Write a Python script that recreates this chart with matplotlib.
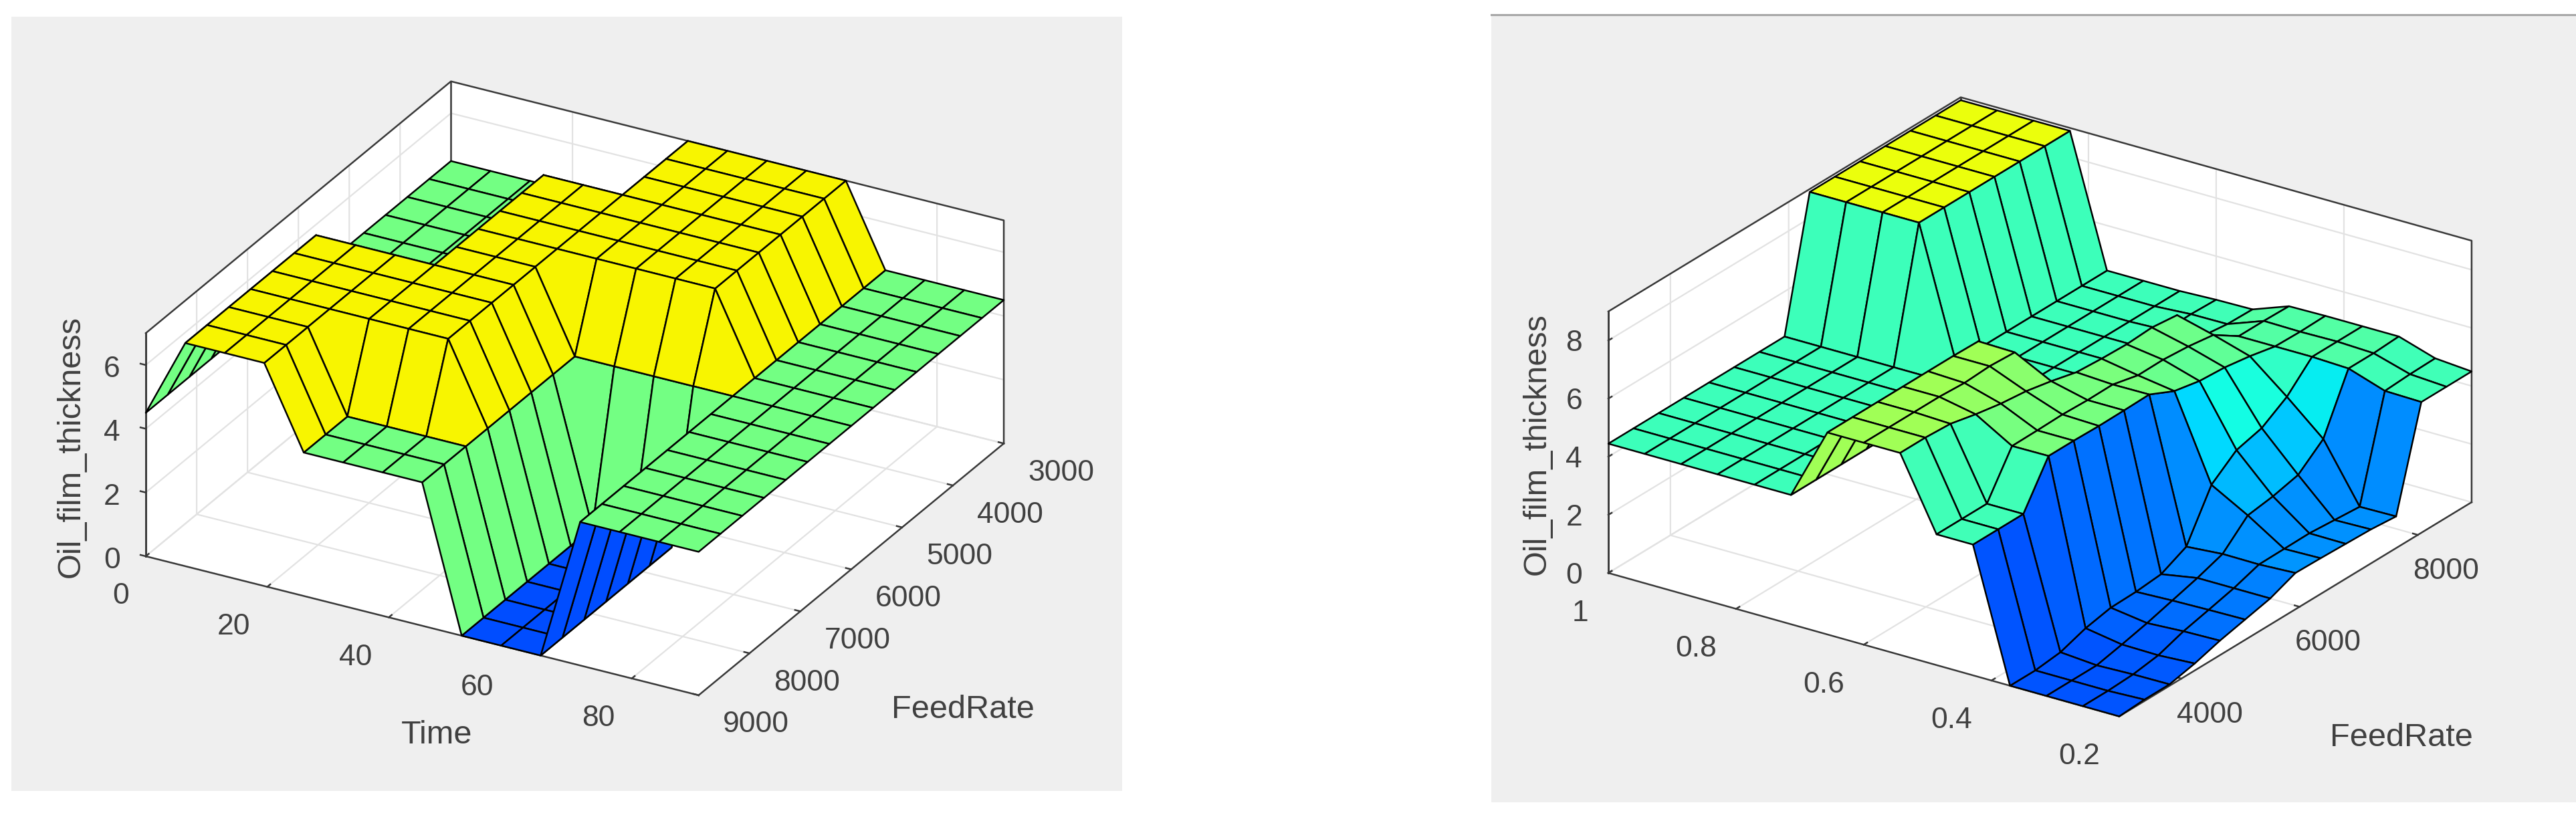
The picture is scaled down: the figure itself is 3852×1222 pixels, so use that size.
import numpy as np
import matplotlib
matplotlib.use("Agg")
import matplotlib.pyplot as plt
from matplotlib.colors import Normalize
from matplotlib.patches import Rectangle
from mpl_toolkits.mplot3d import proj3d

W, H = 3852, 1222
plt.rcParams['font.family'] = ['Liberation Sans', 'DejaVu Sans']

TEXT = '#404040'
BOX = '#383838'

# ---- left surface: Time / FeedRate ----
time_vals = [0, 6.5, 13, 19.5, 26, 32.5, 39, 45.5, 52, 58.5, 65, 71.5, 78, 84.5, 91]
feed_left = [3000, 3429, 3857, 4286, 4714, 5143, 5571, 6000, 6429, 6857, 7286, 7714, 8143, 8571, 9000]
thick_left = [
    [4.5, 4.5, 4.5, 4.5, 4.5, 4.5, 7, 7, 7, 7, 7, 4.5, 4.5, 4.5, 4.5],
    [4.5, 4.5, 4.5, 4.5, 4.5, 4.5, 7, 7, 7, 7, 7, 4.5, 4.5, 4.5, 4.5],
    [4.5, 4.5, 4.5, 4.5, 4.5, 4.5, 7, 7, 7, 7, 7, 4.5, 4.5, 4.5, 4.5],
    [4.5, 4.5, 4.5, 4.5, 7, 7, 7, 7, 7, 7, 7, 4.5, 4.5, 4.5, 4.5],
    [4.5, 4.5, 4.5, 4.5, 7, 7, 7, 7, 7, 7, 7, 4.5, 4.5, 4.5, 4.5],
    [4.5, 4.5, 4.5, 4.5, 7, 7, 7, 7, 7, 7, 7, 4.5, 4.5, 4.5, 4.5],
    [4.5, 4.5, 4.5, 4.5, 7, 7, 7, 7, 7, 7, 7, 4.5, 4.5, 4.5, 4.5],
    [4.5, 4.5, 4.5, 4.5, 7, 7, 7, 4.5, 4.5, 4.5, 4.5, 4.5, 4.5, 4.5, 4.5],
    [4.5, 7, 7, 7, 7, 7, 7, 4.5, 0, 0, 0, 4.5, 4.5, 4.5, 4.5],
    [4.5, 7, 7, 7, 7, 7, 7, 4.5, 0, 0, 0, 4.5, 4.5, 4.5, 4.5],
    [4.5, 7, 7, 7, 7, 7, 7, 4.5, 0, 0, 0, 4.5, 4.5, 4.5, 4.5],
    [4.5, 7, 7, 7, 7, 7, 7, 4.5, 0, 0, 0, 4.5, 4.5, 4.5, 4.5],
    [4.5, 7, 7, 7, 4.5, 4.5, 4.5, 4.5, 0, 0, 0, 4.5, 4.5, 4.5, 4.5],
    [4.5, 7, 7, 7, 4.5, 4.5, 4.5, 4.5, 0, 0, 0, 4.5, 4.5, 4.5, 4.5],
    [4.5, 7, 7, 7, 4.5, 4.5, 4.5, 4.5, 0, 0, 0, 4.5, 4.5, 4.5, 4.5],
]

# ---- right surface: second input / FeedRate ----
input_vals = [0.2, 0.257, 0.314, 0.371, 0.429, 0.486, 0.543, 0.6, 0.657, 0.714, 0.771, 0.829, 0.886, 0.943, 1.0]
feed_right = [2950, 3376, 3801, 4227, 4653, 5079, 5504, 5930, 6356, 6781, 7207, 7633, 8059, 8484, 8910]
thick_right = [
    [0, 0, 0, 0, 4.5, 4.5, 6.95, 6.95, 6.95, 4.45, 4.45, 4.45, 4.45, 4.45, 4.45],
    [0.05, 0, 0, 0, 4.5, 4.5, 6.95, 6.95, 6.95, 4.45, 4.45, 4.45, 4.45, 4.45, 4.45],
    [0.05, 0.04, 0, 0.1, 4.5, 4.5, 6.9, 6.95, 6.95, 4.45, 4.45, 4.45, 4.45, 4.45, 4.45],
    [0.24, 0.17, 0.19, 0.4, 5.97, 5.96, 6.7, 6.95, 6.95, 4.45, 4.45, 4.45, 4.45, 4.45, 4.45],
    [0.5, 0.47, 0.4, 0.58, 5.97, 5.97, 6.54, 6.9, 6.95, 4.45, 4.45, 4.45, 4.45, 4.45, 4.45],
    [0.7, 0.68, 0.65, 0.6, 5.95, 5.99, 6.44, 6.95, 6.95, 4.45, 4.45, 4.45, 4.45, 4.45, 4.45],
    [0.9, 0.9, 0.9, 0.68, 5.96, 5.96, 6.26, 6.9, 6.93, 4.45, 4.45, 4.45, 4.45, 4.45, 4.45],
    [1.25, 1.19, 1.2, 1.1, 5.98, 5.97, 6.04, 4.45, 4.45, 4.45, 4.45, 4.45, 4.45, 4.45, 4.45],
    [1.23, 1.2, 2.0, 2.7, 5.57, 5.76, 5.98, 4.45, 4.45, 4.45, 4.45, 8.9, 8.9, 8.9, 8.9],
    [1.2, 1.21, 2.13, 3.37, 5.39, 5.77, 5.95, 4.45, 4.45, 4.45, 4.45, 8.9, 8.9, 8.9, 8.9],
    [1.17, 1.14, 2.34, 3.6, 5.33, 5.7, 6.0, 4.45, 4.45, 4.45, 4.45, 8.9, 8.9, 8.9, 8.9],
    [1.09, 1.07, 3.05, 4.15, 5.19, 5.57, 5.9, 4.45, 4.45, 4.45, 4.45, 8.9, 8.9, 8.9, 8.9],
    [4.5, 4.53, 4.95, 5.0, 5.0, 5.0, 4.65, 4.5, 4.45, 4.45, 4.45, 8.9, 8.9, 8.9, 8.9],
    [4.5, 4.58, 4.95, 5.0, 4.98, 5.0, 4.54, 4.53, 4.45, 4.45, 4.45, 8.9, 8.9, 8.9, 8.9],
    [4.5, 4.6, 5.0, 5.0, 5.0, 4.98, 4.52, 4.5, 4.45, 4.45, 4.45, 8.9, 8.9, 8.9, 8.9],
]

fig = plt.figure(figsize=(W / 100, H / 100), dpi=100, facecolor='white')


def panel_rect(x0, y0, x1, y1):
    fig.add_artist(Rectangle((x0 / W, 1 - y1 / H), (x1 - x0) / W, (y1 - y0) / H, zorder=-1,
                             transform=fig.transFigure, facecolor='#efefef', edgecolor='none'))


def px_label(x, y, s, rot=0):
    fig.text(x / W, 1 - y / H, s, fontsize=35, color=TEXT, rotation=rot, ha='center', va='center')


def to_px(ax, x, y, z):
    ax.apply_aspect()
    xp, yp, _ = proj3d.proj_transform(x, y, z, ax.get_proj())
    return ax.transData.transform((xp, yp))


# 把立方体的两个角对齐到目标像素位置
def fit_box(ax, c1, c2, p1, p2):
    size = 1500.0
    for _ in range(3):
        a = to_px(ax, *c1)
        b = to_px(ax, *c2)
        size *= np.hypot(*(np.array(p2) - p1)) / np.hypot(*(b - a))
        ax.set_position([0.1, 0.1, size / W, size / H])
        a = to_px(ax, *c1)
        pos = ax.get_position()
        ax.set_position([pos.x0 + (p1[0] - a[0]) / W, pos.y0 + (H - p1[1] - a[1]) / H, size / W, size / H])


def surface_axes(xv, yv, zv, xlim, ylim, zlim, view, aspect, vrange,
                 xticks, xlabels, yticks, zticks, zpos, yha, ypad):
    ax = fig.add_axes([0.1, 0.1, 0.4, 0.4], projection='3d', computed_zorder=False, proj_type='ortho')
    ax.patch.set_visible(False)
    ax.view_init(elev=view[0], azim=view[1])
    ax.set_box_aspect(aspect)
    ax.set_xlim(*xlim)
    ax.set_ylim(*ylim)
    ax.set_zlim(*zlim)

    X, Y = np.meshgrid(xv, yv)
    Z = np.array(zv, dtype=float)
    colors = plt.get_cmap('jet')(Normalize(*vrange)(Z))
    ax.plot_surface(X, Y, Z, rstride=1, cstride=1, facecolors=colors, shade=False,
                    edgecolor='black', linewidth=1.8, antialiased=True, zorder=3)

    # 后面的竖线和顶边，(x0, y1) 是最靠后的角
    x0, x1 = xlim
    y0, y1 = ylim
    z0, z1 = zlim
    ax.plot([x0, x0, x1, x1], [y0, y1, y1, y1], [z1, z1, z1, z0], color=BOX, lw=1.8, zorder=1)
    ax.plot([x0, x0], [y0, y0], [z0, z1], color=BOX, lw=1.8, zorder=1)
    ax.plot([x0, x0], [y1, y1], [z0, z1], color=BOX, lw=1.8, zorder=1)

    ax.set_xticks(xticks)
    ax.set_xticklabels(xlabels)
    ax.set_yticks(yticks)
    ax.set_zticks(zticks)
    for axis in (ax.xaxis, ax.yaxis, ax.zaxis):
        axis.set_pane_color((1, 1, 1, 1))
        axis.pane.set_edgecolor('none')
        axis.line.set_color(BOX)
        axis.line.set_linewidth(1.8)
        axis._axinfo['grid']['color'] = '#e2e2e2'
        axis._axinfo['grid']['linewidth'] = 1.6
        axis._axinfo['tick']['inward_factor'] = 0.0
        axis._axinfo['tick']['outward_factor'] = 0.12
        axis._axinfo['tick']['linewidth'] = {True: 1.8, False: 1.0}
        axis._axinfo['tick']['color'] = BOX
    ax.zaxis.set_ticks_position(zpos)
    ax.tick_params(axis='both', labelsize=32, labelcolor=TEXT, color=BOX)
    ax.tick_params(axis='x', pad=20)
    ax.tick_params(axis='y', pad=ypad)
    ax.tick_params(axis='z', pad=12)
    plt.setp(ax.get_xticklabels(), ha='right')
    plt.setp(ax.get_yticklabels(), ha=yha)
    plt.setp(ax.get_zticklabels(), va='center')
    return ax


panel_rect(17, 25, 1678, 1183)
panel_rect(2230, 22, 3852, 1200)
fig.add_artist(plt.Line2D([2230 / W, 1], [1 - 22 / H, 1 - 22 / H], color='#a6a6a6', lw=2.2, zorder=-1))

ax1 = surface_axes(time_vals, feed_left, thick_left, (0, 91), (9000, 3000), (0, 7),
                   (27.1, -61.1), (1, 1, 0.397), (-3.11, 12.44),
                   [0, 20, 40, 60, 80], ['0', '20', '40', '60', '80'],
                   [3000, 4000, 5000, 6000, 7000, 8000, 9000], [0, 2, 4, 6], 'upper', 'left', 14)
fit_box(ax1, (0, 9000, 0), (91, 3000, 0), (218, 832), (1501, 663))

ax2 = surface_axes(input_vals, feed_right, thick_right, (1, 0.2), (2950, 8910), (0, 9),
                   (24.4, -55.8), (1, 1.015, 0.465), (-4.4, 16.5),
                   [1, 0.8, 0.6, 0.4, 0.2], ['1', '0.8', '0.6', '0.4', '0.2'],
                   [4000, 6000, 8000], [0, 2, 4, 6, 8], 'lower', 'center', 20)
fit_box(ax2, (1, 2950, 0), (0.2, 8910, 0), (2405, 857), (3696, 752))

px_label(653, 1100, 'Time')
px_label(1440, 1062, 'FeedRate')
px_label(106, 668, 'Oil_film_thickness', rot=90)
px_label(3591, 1103, 'FeedRate')
px_label(2298, 664, 'Oil_film_thickness', rot=90)

fig.savefig('out.png', dpi=100)
